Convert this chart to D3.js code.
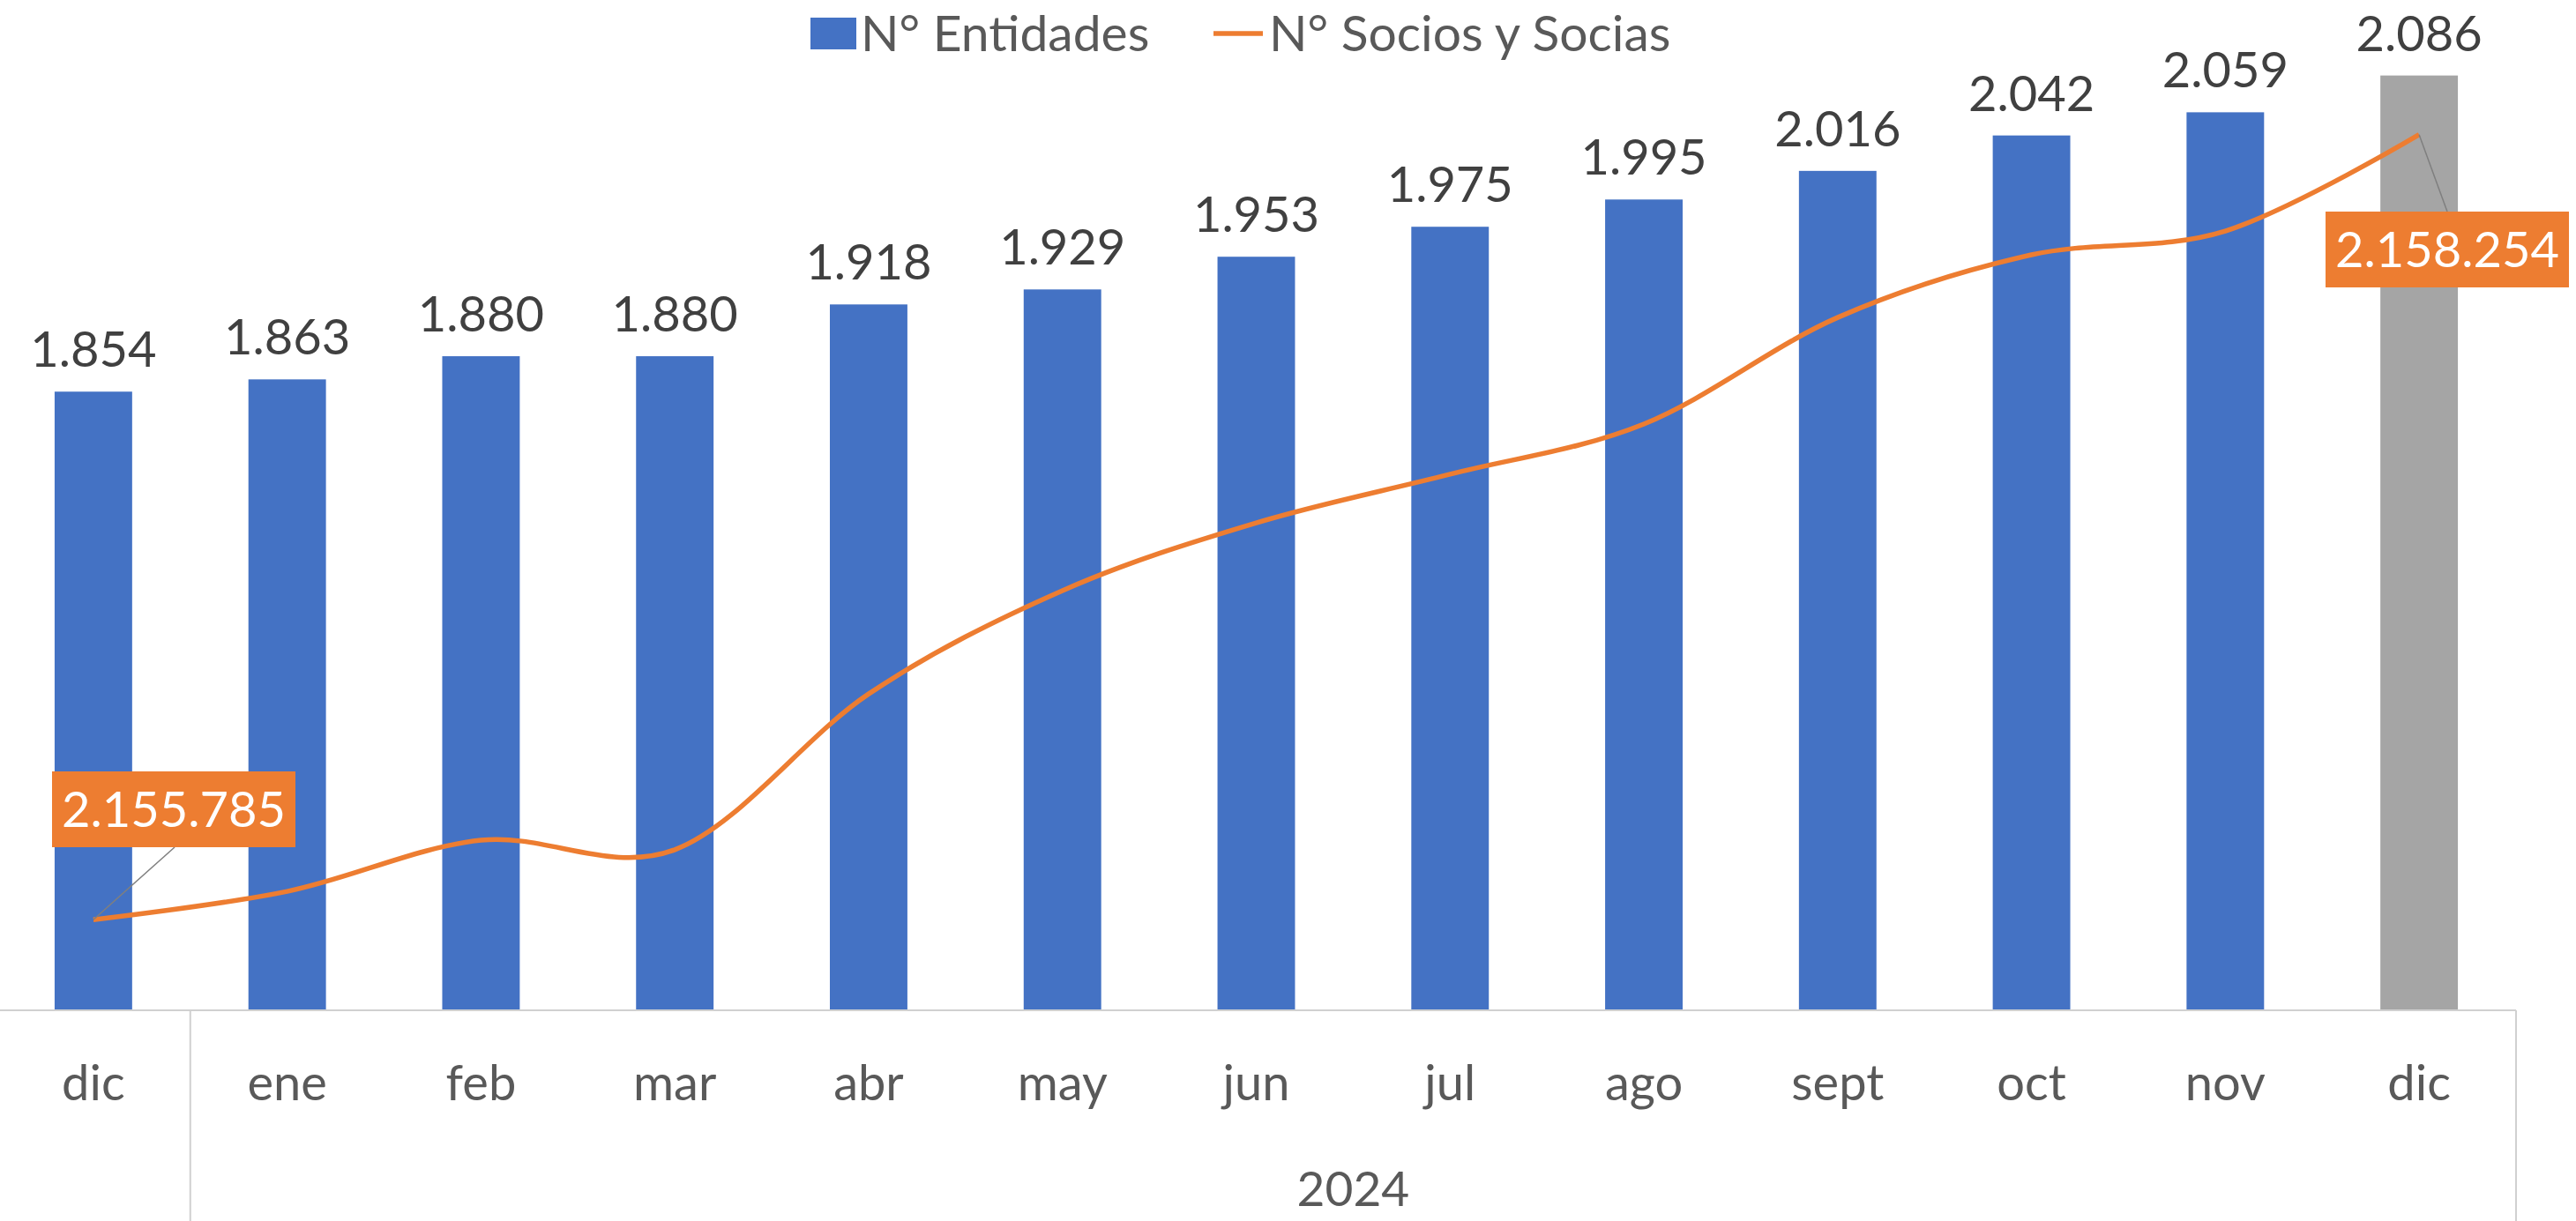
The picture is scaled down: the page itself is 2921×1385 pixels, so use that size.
<!DOCTYPE html>
<html>
<head>
<meta charset="utf-8">
<script src="https://cdn.jsdelivr.net/npm/d3@7"></script>
<style>
  body { margin: 0; background: #fff; }
  svg { display: block; font-family: Lato, "Open Sans", sans-serif; }
</style>
</head>
<body>
<div id="chart"></div>
<script>
// months on the x axis (first "dic" is 2023, the rest belong to 2024)
const months = ["dic", "ene", "feb", "mar", "abr", "may", "jun", "jul", "ago", "sept", "oct", "nov", "dic"];
const yearLabel = "2024";
const entidades = [1854, 1863, 1880, 1880, 1918, 1929, 1953, 1975, 1995, 2016, 2042, 2059, 2086];
const socios = [2155785, 2155874, 2156035, 2156005, 2156495, 2156820, 2157033, 2157186, 2157344, 2157679, 2157876, 2157951, 2158254];
const legendNames = ["N° Entidades", "N° Socios y Socias"];

const width = 2921, height = 1385;
const margin = {top: 64, bottom: 239, left: -4, right: 68};

const fmt = d3.formatLocale({decimal: ",", thousands: ".", grouping: [3], currency: ["", ""]}).format(",d");

const svg = d3.select("#chart").append("svg")
  .attr("width", width)
  .attr("height", height);

const idx = d3.range(months.length);
const x = d3.scaleBand()
  .domain(idx)
  .range([margin.left, width - margin.right])
  .paddingInner(0.6)
  .paddingOuter(0.3);

const yBar = d3.scaleLinear().domain([1400, 2100]).range([height - margin.bottom, margin.top]);
const yLine = d3.scaleLinear().domain([2155500, 2158500]).range([height - margin.bottom, margin.top]);
const cx = i => x(i) + x.bandwidth() / 2;
const axisY = height - margin.bottom;

// bars
svg.append("g").selectAll("rect")
  .data(idx)
  .join("rect")
  .attr("x", i => x(i))
  .attr("width", x.bandwidth())
  .attr("y", i => yBar(entidades[i]))
  .attr("height", i => axisY - yBar(entidades[i]))
  .attr("fill", i => i === idx.length - 1 ? "#A5A5A5" : "#4472C4");

// bar labels
svg.append("g").selectAll("text")
  .data(idx)
  .join("text")
  .attr("x", cx)
  .attr("y", i => yBar(entidades[i]) - 28)
  .attr("text-anchor", "middle")
  .attr("font-size", 56)
  .attr("fill", "#404040")
  .text(i => fmt(entidades[i]));

// x axis
const xAxis = svg.append("g")
  .attr("transform", `translate(0,${axisY})`)
  .call(d3.axisBottom(x).tickSize(0).tickFormat(i => months[i]));
xAxis.select(".domain").remove();
xAxis.selectAll("text")
  .attr("y", 102)
  .attr("dy", 0)
  .attr("font-size", 56)
  .attr("font-family", "Lato, 'Open Sans', sans-serif")
  .attr("fill", "#595959");

const rightEdge = width - margin.right;
const sepX = x(1) - x.step() * x.paddingInner() / 2;
svg.append("line")
  .attr("x1", 0).attr("x2", rightEdge)
  .attr("y1", axisY).attr("y2", axisY)
  .attr("stroke", "#D0D0D0").attr("stroke-width", 2);
svg.selectAll(".sep")
  .data([sepX, rightEdge])
  .join("line")
  .attr("x1", d => d).attr("x2", d => d)
  .attr("y1", axisY).attr("y2", height)
  .attr("stroke", "#D0D0D0").attr("stroke-width", 2);

svg.append("text")
  .attr("x", (sepX + rightEdge) / 2)
  .attr("y", axisY + 222)
  .attr("text-anchor", "middle")
  .attr("font-size", 55)
  .attr("fill", "#595959")
  .text(yearLabel);

// socios line
const line = d3.line()
  .x((d, i) => cx(i))
  .y(d => yLine(d))
  .curve(d3.curveCardinal.tension(0));

svg.append("path")
  .datum(socios)
  .attr("fill", "none")
  .attr("stroke", "#ED7D31")
  .attr("stroke-width", 5.5)
  .attr("stroke-linejoin", "round")
  .attr("d", line);

// callout labels for first and last points
const callouts = [
  {i: 0, bx: 59, by: 875, lx: 198, ly: 961},
  {i: socios.length - 1, bx: 2637, by: 240, lx: 2775, ly: 240}
];
const boxW = 276, boxH = 86;
callouts.forEach(c => {
  svg.append("line")
    .attr("x1", cx(c.i)).attr("y1", yLine(socios[c.i]))
    .attr("x2", c.lx).attr("y2", c.ly)
    .attr("stroke", "#7F7F7F").attr("stroke-width", 1.5);
  svg.append("rect")
    .attr("x", c.bx).attr("y", c.by)
    .attr("width", boxW).attr("height", boxH)
    .attr("fill", "#ED7D31");
  svg.append("text")
    .attr("x", c.bx + boxW / 2)
    .attr("y", c.by + 63)
    .attr("text-anchor", "middle")
    .attr("font-size", 56)
    .attr("fill", "#fff")
    .text(fmt(socios[c.i]));
});

// legend
const lg = svg.append("g");
lg.append("rect").attr("x", 919).attr("y", 20).attr("width", 52).attr("height", 36).attr("fill", "#4472C4");
lg.append("text").attr("x", 976).attr("y", 58).attr("font-size", 57).attr("fill", "#595959").text(legendNames[0]);
lg.append("line").attr("x1", 1376).attr("x2", 1432).attr("y1", 38).attr("y2", 38)
  .attr("stroke", "#ED7D31").attr("stroke-width", 5.5);
lg.append("text").attr("x", 1439).attr("y", 58).attr("font-size", 57).attr("fill", "#595959").text(legendNames[1]);
</script>
</body>
</html>
